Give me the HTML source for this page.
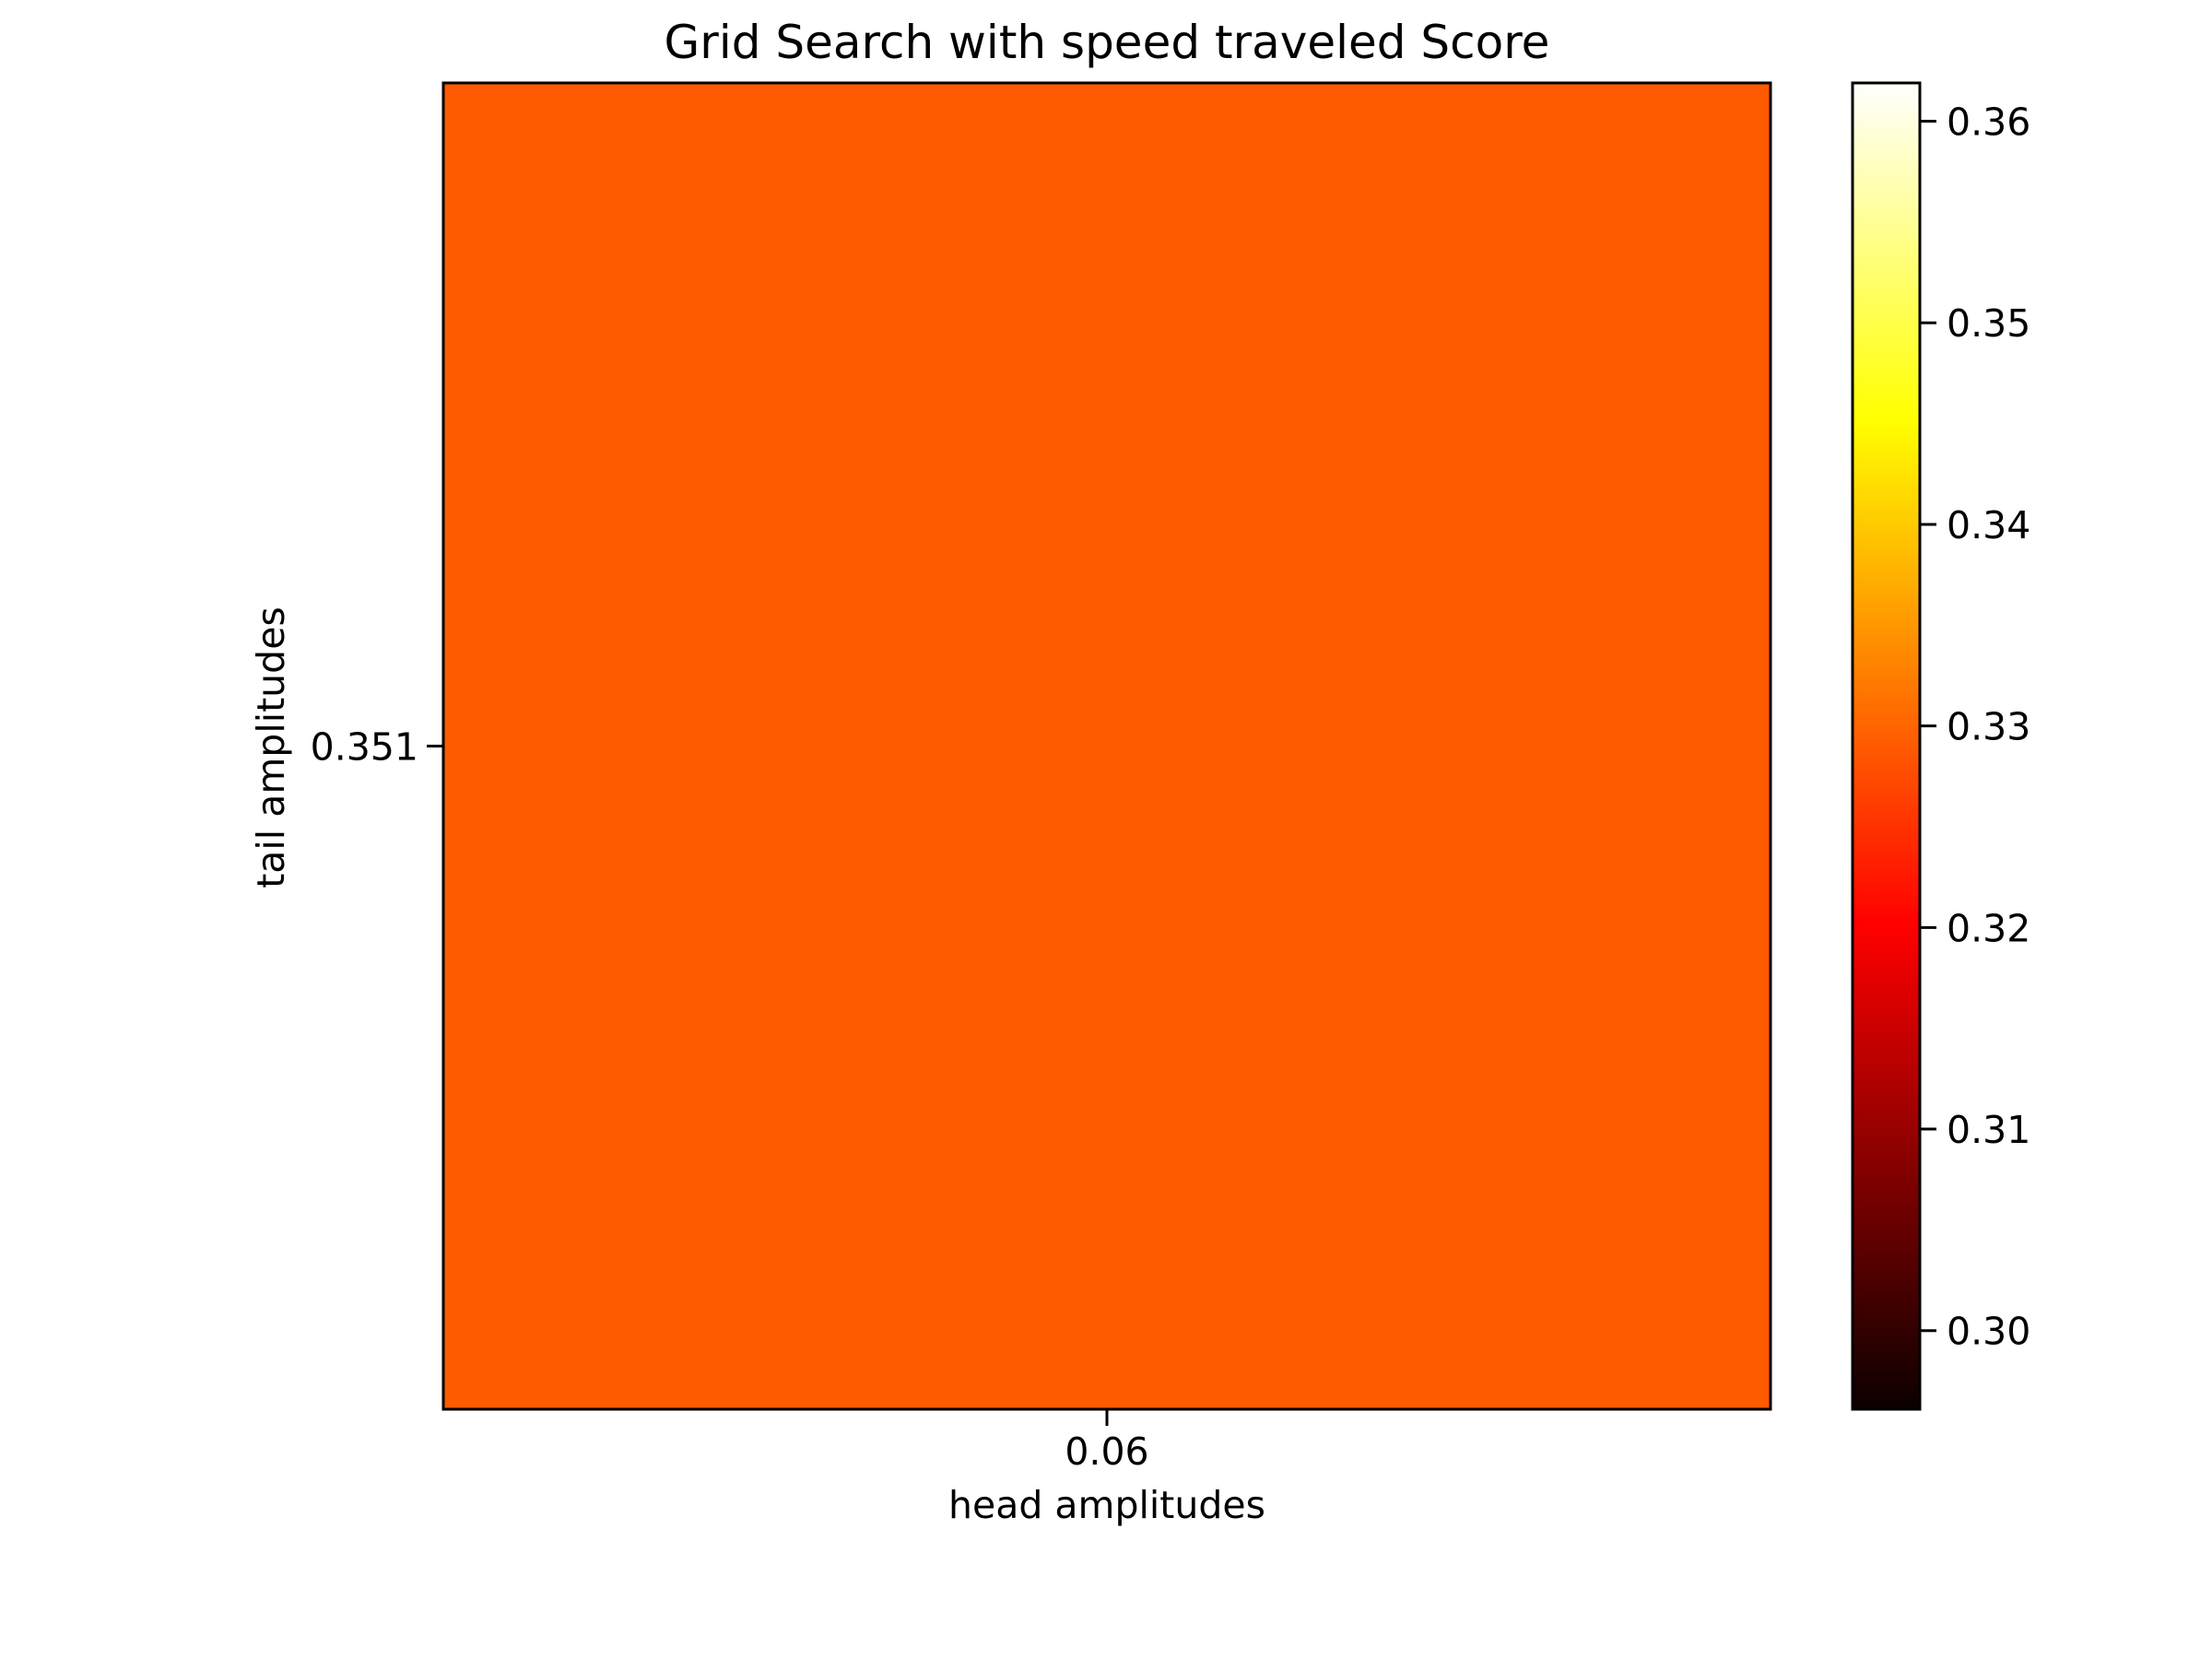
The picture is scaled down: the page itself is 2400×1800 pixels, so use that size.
<!DOCTYPE html>
<html><head><meta charset="utf-8"><style>
html,body{margin:0;padding:0;background:#fff;}
svg{display:block;font-family:"DejaVu Sans","Liberation Sans",sans-serif;}
</style></head><body>
<svg id="chart" width="2400" height="1800" viewBox="0 0 2400 1800">
<rect width="2400" height="1800" fill="#fff"/>
<text x="1201" y="63" font-size="50" text-anchor="middle">Grid Search with speed traveled Score</text>
<g id="cells"></g>
<rect x="481" y="90" width="1440" height="1439" fill="none" stroke="#000" stroke-width="3"/>
<g id="xticks"></g>
<g id="yticks"></g>
<text x="1201" y="1647" font-size="41" text-anchor="middle">head amplitudes</text>
<text transform="translate(308,811) rotate(-90)" font-size="41" text-anchor="middle">tail amplitudes</text>
<defs><linearGradient id="hot" x1="0" y1="1" x2="0" y2="0">
<stop offset="0" stop-color="#0b0000"/><stop offset="0.365" stop-color="#ff0000"/><stop offset="0.746" stop-color="#ffff00"/><stop offset="1" stop-color="#ffffff"/>
</linearGradient></defs>
<rect x="2010" y="90" width="73" height="1439" fill="url(#hot)" stroke="#000" stroke-width="3"/>
<g id="cticks"></g>
</svg>
<script>
const xCategories = ["0.06"];
const yCategories = ["0.351"];
const values = [[0.329]];
const cbTicks = [0.30, 0.31, 0.32, 0.33, 0.34, 0.35, 0.36];
const cbTickLabels = ["0.30","0.31","0.32","0.33","0.34","0.35","0.36"];
const vmin = 0.2961, vmax = 0.3619;

const NS = "http://www.w3.org/2000/svg";
const L = 481, R = 1921, T = 90, B = 1529;
const cw = (R - L) / xCategories.length, ch = (B - T) / yCategories.length;
const xPos = i => L + cw * (i + 0.5);
const yPos = j => T + ch * (j + 0.5);
const cbY = v => B - (v - vmin) / (vmax - vmin) * (B - T);
function hot(t){
  t = Math.max(0, Math.min(1, t));
  const r = Math.min(1, 0.0416 + t / 0.365 * (1 - 0.0416));
  const g = Math.max(0, Math.min(1, (t - 0.365) / (0.746 - 0.365)));
  const b = Math.max(0, Math.min(1, (t - 0.746) / (1 - 0.746)));
  return `rgb(${Math.round(r*255)},${Math.round(g*255)},${Math.round(b*255)})`;
}
function mk(tag, attrs, parent, txt){
  const e = document.createElementNS(NS, tag);
  for (const k in attrs) e.setAttribute(k, attrs[k]);
  if (txt !== undefined) e.textContent = txt;
  parent.appendChild(e); return e;
}
const cells = document.getElementById('cells');
values.forEach((row, j) => row.forEach((v, i) => {
  const r = mk('rect', {x: xPos(i) - cw/2, y: yPos(j) - ch/2, width: cw, height: ch, fill: hot((v - vmin)/(vmax - vmin))}, cells);
  
  
}));
const xg = document.getElementById('xticks');
xCategories.forEach((c, i) => {
  const l = mk('line', {x1: xPos(i), x2: xPos(i), y1: B, y2: B + 18, stroke: '#000', 'stroke-width': 3}, xg);
  
  
  const t = mk('text', {x: xPos(i), y: 1589, 'font-size': 41, 'text-anchor': 'middle'}, xg, c);
  
  
});
const yg = document.getElementById('yticks');
yCategories.forEach((c, j) => {
  const l = mk('line', {x1: L - 18, x2: L, y1: yPos(j), y2: yPos(j), stroke: '#000', 'stroke-width': 3}, yg);
  
  
  const t = mk('text', {x: 454, y: yPos(j) + 15, 'font-size': 41, 'text-anchor': 'end'}, yg, c);
  
  
});
const cg = document.getElementById('cticks');
cbTicks.forEach((v, k) => {
  const l = mk('line', {x1: 2083, x2: 2101, y1: cbY(v), y2: cbY(v), stroke: '#000', 'stroke-width': 3}, cg);
  
  
  const t = mk('text', {x: 2112, y: cbY(v) + 15, 'font-size': 41}, cg, cbTickLabels[k]);
  
  
});
</script>
</body></html>
